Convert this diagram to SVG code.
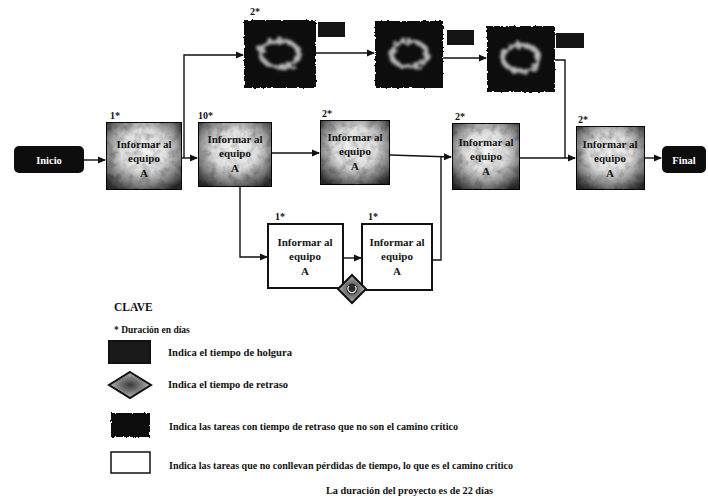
<svg xmlns="http://www.w3.org/2000/svg" width="708" height="499" viewBox="0 0 708 499">
  <defs>
    <style>
      text { font-family: "Liberation Serif", "DejaVu Serif", "Times New Roman", serif; }
      .lbl { font-weight: bold; fill: #111; }
      .dur { font-size: 10px; }
      .task { font-size: 11px; text-anchor: middle; fill: #141414; }
      .term { font-weight: bold; font-size: 10.5px; fill: #fff; text-anchor: middle; }
      .key { font-size: 9.5px; fill: #111; font-weight: bold; }
      .edge { fill: none; stroke: #111; stroke-width: 1.4; }
      .box { stroke: #111; stroke-width: 2; }
      .hole { fill: none; stroke: #b8b8b8; stroke-width: 5; }
    </style>
    <marker id="arr" markerWidth="8" markerHeight="8" refX="7" refY="4" orient="auto" markerUnits="userSpaceOnUse">
      <path d="M0,0.5 L8,4 L0,7.5 Z" fill="#111"/>
    </marker>
    <!-- mottled grey fill for tasks with slack -->
    <radialGradient id="mottle" cx="50%" cy="42%" r="68%">
      <stop offset="0" stop-color="#f6f6f6"/>
      <stop offset="0.45" stop-color="#dcdcdc"/>
      <stop offset="0.8" stop-color="#707070"/>
      <stop offset="1" stop-color="#2a2a2a"/>
    </radialGradient>
    <radialGradient id="dia" cx="50%" cy="50%" r="55%">
      <stop offset="0" stop-color="#3a3a3a"/>
      <stop offset="0.6" stop-color="#8a8a8a"/>
      <stop offset="1" stop-color="#cfcfcf"/>
    </radialGradient>
    <filter id="grain" x="0" y="0" width="100%" height="100%">
      <feTurbulence type="fractalNoise" baseFrequency="0.12" numOctaves="3" seed="4" result="n"/>
      <feColorMatrix in="n" type="matrix" values="0 0 0 0 0  0 0 0 0 0  0 0 0 0 0  0 0 0 1.1 -0.45" result="dots"/>
      <feComposite in="dots" in2="SourceGraphic" operator="in" result="d2"/>
      <feMerge><feMergeNode in="SourceGraphic"/><feMergeNode in="d2"/></feMerge>
    </filter>
    <filter id="ragged" x="-5%" y="-5%" width="110%" height="110%">
      <feTurbulence type="fractalNoise" baseFrequency="0.35" numOctaves="2" seed="7" result="t"/>
      <feDisplacementMap in="SourceGraphic" in2="t" scale="3"/>
    </filter>
    <!-- broken, blurred light ring inside the dark boxes -->
    <filter id="blotch" x="-30%" y="-30%" width="160%" height="160%">
      <feTurbulence type="fractalNoise" baseFrequency="0.18" numOctaves="2" seed="11" result="t"/>
      <feDisplacementMap in="SourceGraphic" in2="t" scale="9" result="d"/>
      <feGaussianBlur in="d" stdDeviation="1.6"/>
    </filter>
  </defs>

  <!-- connectors -->
  <g id="connectors">
    <path class="edge" d="M84,160 L105,160" marker-end="url(#arr)"/>
    <path class="edge" d="M182,158 L197,158" marker-end="url(#arr)"/>
    <path class="edge" d="M184,158 L184,55 L243,55" marker-end="url(#arr)"/>
    <path class="edge" d="M272,153 L319,153" marker-end="url(#arr)"/>
    <path class="edge" d="M240,153 L240,257 L267,257" marker-end="url(#arr)"/>
    <path class="edge" d="M343,258 L361,258" marker-end="url(#arr)"/>
    <path class="edge" d="M390,155 L451,157" marker-end="url(#arr)"/>
    <path class="edge" d="M432,260 L441,260 L441,157"/>
    <path class="edge" d="M520,158 L575,158" marker-end="url(#arr)"/>
    <path class="edge" d="M555,60 L565,60 L565,158"/>
    <path class="edge" d="M645,158 L661,158" marker-end="url(#arr)"/>
    <path class="edge" d="M316,53 L374,53" marker-end="url(#arr)"/>
    <path class="edge" d="M443,58 L486,58" marker-end="url(#arr)"/>
  </g>

  <!-- start / end -->
  <g id="inicio">
    <rect x="14" y="146" width="70" height="27" rx="5" fill="#0d0d0d"/>
    <text class="term" x="49" y="163.5">Inicio</text>
  </g>
  <g id="final">
    <rect x="662" y="146" width="44" height="27" rx="5" fill="#0d0d0d"/>
    <text class="term" x="684" y="163.5">Final</text>
  </g>

  <!-- main-line tasks -->
  <g id="task1">
    <rect class="box" x="106" y="122" width="76" height="68" fill="url(#mottle)" filter="url(#grain)"/>
    <text class="lbl dur" x="110" y="119">1*</text>
    <text class="lbl task" x="144" y="148">Informar al</text>
    <text class="lbl task" x="144" y="162">equipo</text>
    <text class="lbl task" x="144" y="177">A</text>
  </g>
  <g id="task2">
    <rect class="box" x="198" y="122" width="74" height="65" fill="url(#mottle)" filter="url(#grain)"/>
    <text class="lbl dur" x="198" y="119">10*</text>
    <text class="lbl task" x="235" y="143">Informar al</text>
    <text class="lbl task" x="235" y="157">equipo</text>
    <text class="lbl task" x="235" y="172">A</text>
  </g>
  <g id="task3">
    <rect class="box" x="320" y="120" width="70" height="65" fill="url(#mottle)" filter="url(#grain)"/>
    <text class="lbl dur" x="322" y="117">2*</text>
    <text class="lbl task" x="355" y="141">Informar al</text>
    <text class="lbl task" x="355" y="155">equipo</text>
    <text class="lbl task" x="355" y="170">A</text>
  </g>
  <g id="task4">
    <rect class="box" x="452" y="123" width="68" height="67" fill="url(#mottle)" filter="url(#grain)"/>
    <text class="lbl dur" x="455" y="120">2*</text>
    <text class="lbl task" x="486" y="146">Informar al</text>
    <text class="lbl task" x="486" y="160">equipo</text>
    <text class="lbl task" x="486" y="175">A</text>
  </g>
  <g id="task5">
    <rect class="box" x="576" y="126" width="69" height="64" fill="url(#mottle)" filter="url(#grain)"/>
    <text class="lbl dur" x="578" y="123">2*</text>
    <text class="lbl task" x="610" y="148">Informar al</text>
    <text class="lbl task" x="610" y="162">equipo</text>
    <text class="lbl task" x="610" y="177">A</text>
  </g>

  <!-- upper tasks off the critical path -->
  <g id="upper1">
    <rect x="244" y="20" width="72" height="68" fill="#080808" filter="url(#ragged)"/>
    <ellipse class="hole" cx="280" cy="54" rx="19" ry="13" filter="url(#blotch)"/>
    <rect x="318" y="22" width="27" height="15" fill="#151515"/>
    <text class="lbl dur" x="250" y="15">2*</text>
  </g>
  <g id="upper2">
    <rect x="375" y="21" width="68" height="67" fill="#080808" filter="url(#ragged)"/>
    <ellipse class="hole" cx="409" cy="54" rx="18" ry="13" filter="url(#blotch)"/>
    <rect x="447" y="30" width="27" height="15" fill="#151515"/>
  </g>
  <g id="upper3">
    <rect x="487" y="26" width="68" height="66" fill="#080808" filter="url(#ragged)"/>
    <ellipse class="hole" cx="521" cy="58" rx="18" ry="13" filter="url(#blotch)"/>
    <rect x="556" y="33" width="28" height="15" fill="#151515"/>
  </g>

  <!-- lower critical tasks -->
  <g id="lower1">
    <rect class="box" x="268" y="224" width="75" height="64" fill="#fff"/>
    <text class="lbl dur" x="275" y="220">1*</text>
    <text class="lbl task" x="305" y="246">Informar al</text>
    <text class="lbl task" x="305" y="260">equipo</text>
    <text class="lbl task" x="305" y="275">A</text>
  </g>
  <g id="lower2">
    <rect class="box" x="362" y="224" width="70" height="66" fill="#fff"/>
    <text class="lbl dur" x="368" y="220">1*</text>
    <text class="lbl task" x="397" y="246">Informar al</text>
    <text class="lbl task" x="397" y="260">equipo</text>
    <text class="lbl task" x="397" y="275">A</text>
  </g>
  <g id="delay">
    <path d="M352,275 L366,289 L352,303 L338,289 Z" fill="url(#dia)" stroke="#111" stroke-width="2"/>
    <circle cx="352" cy="289" r="5.5" fill="#2a2a2a"/>
    <path d="M349,286 A4,4 0 1,0 355,286" fill="none" stroke="#ddd" stroke-width="1.2"/>
  </g>

  <!-- key -->
  <g id="key">
    <text class="key" x="114" y="311" style="font-size:11.5px">CLAVE</text>
    <text class="key" x="114" y="333">* Duración en días</text>

    <rect x="109" y="341" width="41" height="22" fill="#1a1a1a" stroke="#111" stroke-width="2"/>
    <text class="key" x="168" y="356" textLength="124" lengthAdjust="spacingAndGlyphs">Indica el tiempo de holgura</text>

    <path d="M130,372 L151,385 L130,398 L109,385 Z" fill="url(#dia)" stroke="#111" stroke-width="2"/>
    <text class="key" x="168" y="388" textLength="120" lengthAdjust="spacingAndGlyphs">Indica el tiempo de retraso</text>

    <rect x="111" y="413" width="39" height="24" fill="#0b0b0b" filter="url(#ragged)"/>
    <text class="key" x="169" y="430" textLength="289" lengthAdjust="spacingAndGlyphs">Indica las tareas con tiempo de retraso que no son el camino crítico</text>

    <rect x="111" y="452" width="39" height="21" fill="#fff" stroke="#111" stroke-width="1.5"/>
    <text class="key" x="169" y="469" textLength="344" lengthAdjust="spacingAndGlyphs">Indica las tareas que no conllevan pérdidas de tiempo, lo que es el camino crítico</text>

    <text class="key" x="326" y="494" textLength="167" lengthAdjust="spacingAndGlyphs">La duración del proyecto es de 22 días</text>
  </g>
</svg>
